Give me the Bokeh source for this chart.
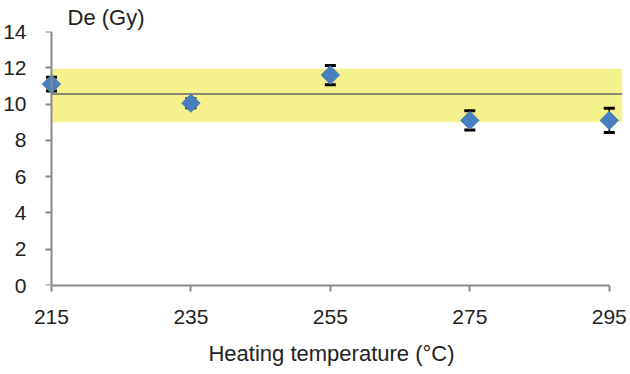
import math
from bokeh.plotting import figure
from bokeh.models import (ColumnDataSource, Whisker, TeeHead, BoxAnnotation, Range1d,
                          FixedTicker, LinearAxis, CustomJSTickFormatter)
from bokeh.embed import file_html
from bokeh.resources import INLINE

temps = [215, 235, 255, 275, 295]
de = [11.1, 10.05, 11.6, 9.1, 9.1]
err = [0.38, 0.25, 0.53, 0.53, 0.67]
band_low = 9.0
band_high = 11.95
mean_de = 10.55
x_ticks = [215, 235, 255, 275, 295]
y_ticks = [0, 2, 4, 6, 8, 10, 12, 14]

X_START = 213.43
X_END = 296.9

src = ColumnDataSource(dict(
    x=temps, y=de,
    lower=[v - e for v, e in zip(de, err)],
    upper=[v + e for v, e in zip(de, err)],
))

font = "Liberation Sans"

p = figure(width=630, height=374, output_backend="svg", toolbar_location=None,
           x_range=Range1d(X_START, X_END), y_range=Range1d(0, 14),
           min_border_left=38, min_border_right=8, min_border_top=0, min_border_bottom=89,
           title="De (Gy)")
p.title.align = "left"
p.title.offset = 27
p.title.text_font = font
p.title.text_font_size = "22px"
p.title.text_font_style = "normal"
p.title.text_color = "#222222"
p.title.standoff = 4
p.outline_line_color = None
p.grid.grid_line_color = None
p.background_fill_color = "white"

p.add_layout(BoxAnnotation(left=x_ticks[0], bottom=band_low, top=band_high,
                           fill_color="#f5f28e", fill_alpha=1.0, line_color=None, level="underlay"))
p.line([x_ticks[0], X_END], [mean_de, mean_de], line_color="#666666", line_width=1.5)

wh = Whisker(source=src, base="x", lower="lower", upper="upper", line_color="black", line_width=1.5,
             upper_head=TeeHead(size=11, line_width=3, line_color="black"),
             lower_head=TeeHead(size=11, line_width=3, line_color="black"))
p.add_layout(wh)
p.scatter("x", "y", source=src, marker="square", angle=math.pi / 4, size=13,
          fill_color="#4a7fbf", line_color="#4a7fbf")

for ax in (p.xaxis[0], p.yaxis[0]):
    ax.axis_line_color = "#8a8a8a"
    ax.axis_line_width = 2
    ax.major_tick_line_color = "#8a8a8a"
    ax.major_tick_line_width = 2
    ax.major_tick_out = 6
    ax.major_tick_in = 0
    ax.minor_tick_line_color = None
    ax.major_label_text_font = font
    ax.major_label_text_font_size = "21px"
    ax.major_label_text_color = "#222222"

# y axis line and ticks drawn at x = 215 inside the frame (labels come from a second axis)
p.yaxis.fixed_location = x_ticks[0]
p.yaxis.ticker = FixedTicker(ticks=y_ticks)
p.yaxis.formatter = CustomJSTickFormatter(code="return ''")

ylab = LinearAxis(ticker=FixedTicker(ticks=y_ticks), axis_line_color=None,
                  major_tick_line_color=None, minor_tick_line_color=None,
                  major_label_text_font=font, major_label_text_font_size="21px",
                  major_label_text_color="#222222", major_label_standoff=8)
p.add_layout(ylab, "left")

p.xaxis.ticker = FixedTicker(ticks=x_ticks)
p.xaxis.bounds = (x_ticks[0], x_ticks[-1])
p.xaxis.major_label_standoff = 18
p.xaxis.axis_label = "Heating temperature (°C)"
p.xaxis.axis_label_text_font = font
p.xaxis.axis_label_text_font_style = "normal"
p.xaxis.axis_label_text_font_size = "22px"
p.xaxis.axis_label_text_color = "#222222"
p.xaxis.axis_label_standoff = 14

open("out.html", "w").write(file_html(p, INLINE))
